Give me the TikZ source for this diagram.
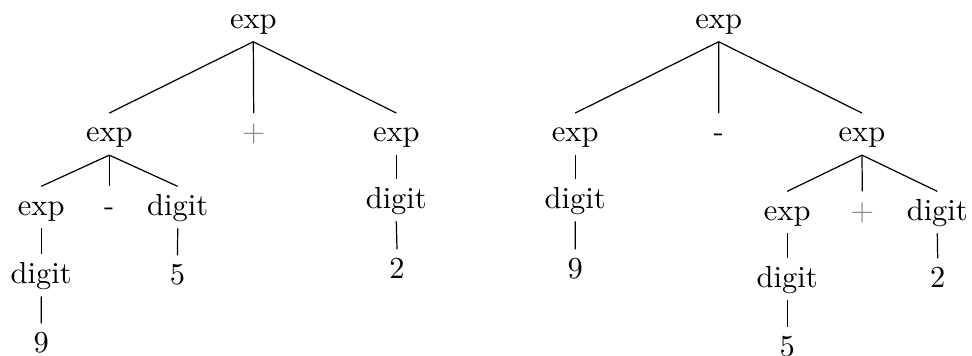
\documentclass[tikz,border=0pt]{standalone}
\begin{document}
\begin{tikzpicture}[x=0.328pt,y=-0.328pt,
  sym/.style={anchor=base, inner xsep=0pt, inner ysep=0.7pt,
              text height=8.5pt, text depth=3.5pt},
  op/.style={sym, text=black!45},
  branch/.style={line width=0.4pt}]
\useasboundingbox (0,0) rectangle (972,355);

% left tree: (9 - 5) + 2
\node[sym] (L0)    at (253.3, 28.3) {exp};
\node[sym] (L1)    at (109.3,141.7) {exp};
\node[op]  (Lp)    at (253.7,141.7) {+};
\node[sym] (R1)    at (396.3,141.7) {exp};
\node[sym] (L11)   at ( 41.2,215)   {exp};
\node[sym] (L1m)   at (109.3,215)   {-};
\node[sym] (L12)   at (177.7,215)   {digit};
\node[sym] (L111)  at ( 41.2,283)   {digit};
\node[sym] (L1111) at ( 41.3,352)   {9};
\node[sym] (L121)  at (177.5,284)   {5};
\node[sym] (R11)   at (396.3,208)   {digit};
\node[sym] (R111)  at (397.0,278)   {2};

\draw[branch] (L0.south) -- (L1.north);
\draw[branch] (L0.south) -- (Lp.north);
\draw[branch] (L0.south) -- (R1.north);
\draw[branch] (L1.south) -- (L11.north);
\draw[branch] (L1.south) -- (L1m.north);
\draw[branch] (L1.south) -- (L12.north);
\draw[branch] (L11.south) -- (L111.north);
\draw[branch] (L111.south) -- (L1111.north);
\draw[branch] (L12.south) -- (L121.north);
\draw[branch] (R1.south) -- (R11.north);
\draw[branch] (R11.south) -- (R111.north);

% right tree: 9 - (5 + 2)
\node[sym] (T0)    at (718.7, 28.3) {exp};
\node[sym] (T1)    at (575.2,141.7) {exp};
\node[sym] (Tm)    at (718.8,141.7) {-};
\node[sym] (T2)    at (862.0,141.7) {exp};
\node[sym] (T11)   at (575.2,208)   {digit};
\node[sym] (T111)  at (575.3,278)   {9};
\node[sym] (T21)   at (787.2,220)   {exp};
\node[op]  (T2p)   at (862.3,220)   {+};
\node[sym] (T22)   at (937.3,220)   {digit};
\node[sym] (T211)  at (787.2,287)   {digit};
\node[sym] (T2111) at (787.2,356)   {5};
\node[sym] (T221)  at (937.7,287)   {2};

\draw[branch] (T0.south) -- (T1.north);
\draw[branch] (T0.south) -- (Tm.north);
\draw[branch] (T0.south) -- (T2.north);
\draw[branch] (T1.south) -- (T11.north);
\draw[branch] (T11.south) -- (T111.north);
\draw[branch] (T2.south) -- (T21.north);
\draw[branch] (T2.south) -- (T2p.north);
\draw[branch] (T2.south) -- (T22.north);
\draw[branch] (T21.south) -- (T211.north);
\draw[branch] (T211.south) -- (T2111.north);
\draw[branch] (T22.south) -- (T221.north);
\end{tikzpicture}
\end{document}
